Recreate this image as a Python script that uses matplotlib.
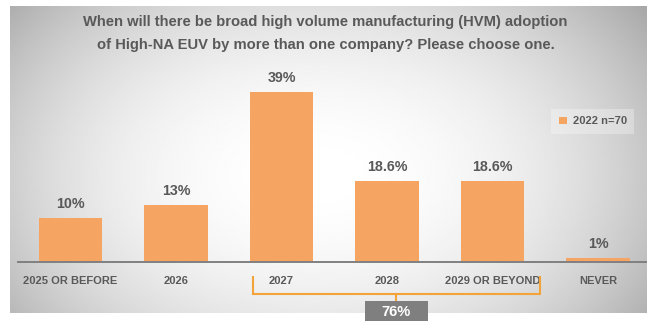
import matplotlib
matplotlib.use("Agg")
import matplotlib.pyplot as plt
import numpy as np
from matplotlib.patches import Rectangle
from matplotlib.transforms import blended_transform_factory

# survey answers, share of respondents (%)
categories = ["2025 OR BEFORE", "2026", "2027", "2028", "2029 OR BEYOND", "NEVER"]
values = [10, 13, 39, 18.6, 18.6, 1]
value_labels = ["10%", "13%", "39%", "18.6%", "18.6%", "1%"]
series_name = "2022 n=70"
group = [2, 3, 4]  # 2027 .. 2029 or beyond

TITLE = ("When will there be broad high volume manufacturing (HVM) adoption\n"
         "of High-NA EUV by more than one company? Please choose one.")

BAR = "#F5A461"
TXT = "#595959"
BRACKET = "#F2A33A"

plt.rcParams["font.family"] = ["Liberation Sans", "DejaVu Sans"]

W, H = 647, 321
fig = plt.figure(figsize=(W / 100, H / 100), dpi=100)
fig.patch.set_facecolor("white")

# soft radial grey backdrop
bg = fig.add_axes([10 / W, 1 - 313 / H, 1 - 10 / W, (313 - 6) / H])
u, v = np.meshgrid(np.linspace(-1, 1, 400), np.linspace(-1, 1, 200))
shade = 1 - 0.14 * (0.95 * (u + 0.05) ** 2 + 0.75 * (v - 0.1) ** 2) - 0.07 * np.abs(u) ** 3
bg.imshow(np.clip(shade, 0, 1), cmap="gray", vmin=0, vmax=1, aspect="auto",
          extent=[0, 1, 0, 1], interpolation="bilinear")
bg.set_axis_off()

ax = fig.add_axes([18 / W, 1 - 262 / H, 1 - 18 / W, (262 - 66) / H])
ax.patch.set_alpha(0)
x = np.arange(len(categories))
bars = ax.bar(x, values, width=0.6, color=BAR, label=series_name, zorder=2)
ax.set_xlim(-0.497, 5.464)
ax.set_ylim(0, 45)

for rect, lab in zip(bars, value_labels):
    ax.annotate(lab, (rect.get_x() + rect.get_width() / 2, rect.get_height()),
                xytext=(0, 5), textcoords="offset points", ha="center", va="bottom",
                fontsize=10.3, fontweight="bold", color=TXT)

for s in ["top", "right", "left"]:
    ax.spines[s].set_visible(False)
ax.spines["bottom"].set_color("#808080")
ax.spines["bottom"].set_linewidth(1.4)
ax.set_yticks([])
ax.set_xticks(x)
ax.set_xticklabels(categories, fontsize=8, fontweight="bold", color=TXT)
ax.tick_params(axis="x", length=0, pad=10)

leg = ax.legend(loc="upper right", bbox_to_anchor=(640 / W, 1 - 103 / H),
                bbox_transform=fig.transFigure, fontsize=8, frameon=True,
                handlelength=0.7, handleheight=0.7, handletextpad=0.5,
                borderpad=0.7, fancybox=False)
leg.get_frame().set_facecolor("white")
leg.get_frame().set_alpha(0.3)
leg.get_frame().set_edgecolor("none")
for t in leg.get_texts():
    t.set_color(TXT)
    t.set_fontweight("bold")

fig.text(0.503, 1 - 33.5 / H, TITLE, ha="center", va="center", fontsize=10.6,
         fontweight="bold", color=TXT, linespacing=1.77)

# bracket grouping 2027 .. 2029 or beyond
tr = blended_transform_factory(ax.transData, fig.transFigure)
xl, xr = group[0] - 0.27, group[-1] + 0.45
xm = (xl + xr) / 2
y_top, y_mid, y_low = 1 - 277 / H, 1 - 294 / H, 1 - 301 / H
ax.plot([xl, xl, xr, xr], [y_top, y_mid, y_mid, y_top], color=BRACKET, lw=1.5,
        transform=tr, clip_on=False, solid_joinstyle="miter")
ax.plot([xm, xm], [y_mid, y_low], color=BRACKET, lw=1.5, transform=tr, clip_on=False)

box_w = 63 / W
xm_fig = fig.transFigure.inverted().transform(ax.transData.transform((xm, 0)))[0]
fig.patches.append(Rectangle((xm_fig - box_w / 2, -0.05), box_w, y_low + 0.05,
                             transform=fig.transFigure, facecolor="#7F7F7F",
                             edgecolor="none"))
total = sum(values[i] for i in group)
fig.text(xm_fig, 1 - 312 / H, f"{round(total)}%", ha="center", va="center",
         fontsize=10.5, fontweight="bold", color="white")

fig.savefig("out.png", dpi=100)
